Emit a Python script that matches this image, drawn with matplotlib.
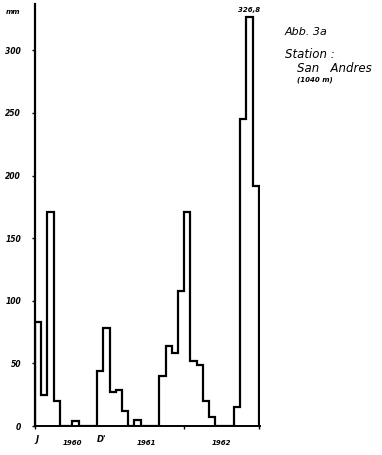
import numpy as np
import matplotlib
matplotlib.use('Agg')
import matplotlib.pyplot as plt

# Monthly rainfall (mm), Jan 1960 - Dec 1962, station San Andres
rain_mm = [83, 25, 171, 20, 0, 0, 4, 0, 0, 0, 44, 78,
           27, 29, 12, 0, 5, 0, 0, 0, 40, 64, 58, 108,
           171, 52, 49, 20, 7, 0, 0, 0, 15, 245, 326.8, 192]
years = ['1960', '1961', '1962']
y_ticks = [0, 50, 100, 150, 200, 250, 300]

edges = np.arange(len(rain_mm) + 1)

fig = plt.figure(figsize=(3.82, 4.55), dpi=100)
ax = fig.add_axes([35 / 382, 29 / 455, 225 / 382, 422 / 455])

ax.stairs(rain_mm, edges, baseline=0, fill=False, color='black', linewidth=1.6)

ax.set_xlim(0, 36.2)
ax.set_ylim(0, 337)

for s in ['top', 'right']:
    ax.spines[s].set_visible(False)
ax.spines['left'].set_linewidth(1.6)
ax.spines['bottom'].set_linewidth(1.4)

txt = dict(family='DejaVu Sans', style='italic', weight='bold')

ax.set_yticks(y_ticks)
ax.set_yticklabels([str(v) for v in y_ticks], fontsize=5.5, **txt)
ax.tick_params(axis='y', length=2, width=1, pad=8)
ax.set_xticks([0, 24, 36])
ax.set_xticklabels([])
ax.tick_params(axis='x', length=2.5, width=1, direction='out')

# month markers and year labels under the axis
ax.text(0.3, -7, 'J', ha='center', va='top', fontsize=6, **txt)
ax.text(10.8, -7, "D'", ha='center', va='top', fontsize=6, **txt)
for i, yr in enumerate(years):
    ax.text(6 + 12 * i, -11, yr, ha='center', va='top', fontsize=5, **txt)

ax.text(-2.4, 331, 'mm', ha='right', va='center', fontsize=5, **txt)

# label for the peak value
peak = int(np.argmax(rain_mm))
ax.text(peak + 0.5, rain_mm[peak] + 3, '326,8', ha='center', va='bottom',
        fontsize=5, **txt)

# caption
cap = dict(family='DejaVu Sans', style='italic', ha='left', va='center')
fig.text(285 / 382, 1 - 32 / 455, 'Abb. 3a', fontsize=8, **cap)
fig.text(285 / 382, 1 - 55 / 455, 'Station :', fontsize=8.5, **cap)
fig.text(297 / 382, 1 - 68 / 455, 'San   Andres', fontsize=8.5, **cap)
fig.text(297 / 382, 1 - 80 / 455, '(1040 m)', ha='left', va='center',
         fontsize=5, **txt)

fig.savefig('out.png', dpi=100)
